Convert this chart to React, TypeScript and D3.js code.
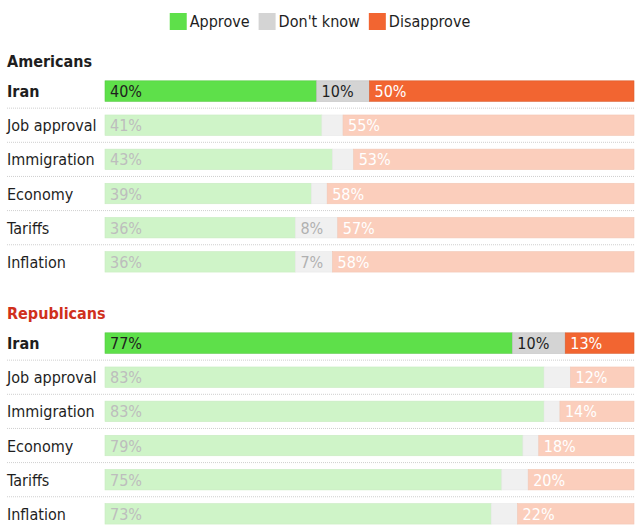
import { useEffect, useRef } from 'react';
import * as d3 from 'd3';

const categories = ['Iran', 'Job approval', 'Immigration', 'Economy', 'Tariffs', 'Inflation'];
const americansApprove = [40, 41, 43, 39, 36, 36];
const americansDontKnow = [10, 4, 4, 3, 8, 7];
const americansDisapprove = [50, 55, 53, 58, 57, 58];
const republicansApprove = [77, 83, 83, 79, 75, 73];
const republicansDontKnow = [10, 5, 3, 3, 5, 5];
const republicansDisapprove = [13, 12, 14, 18, 20, 22];
const legendLabels = ['Approve', "Don't know", 'Disapprove'];

const FONT = "'DejaVu Sans Condensed', 'Liberation Sans Narrow', sans-serif";
const STRONG = ['#5ee04a', '#d4d4d4', '#f26531'];
const LIGHT = ['#cff4c8', '#f0f0f0', '#fbcebc'];
const STRONG_TEXT = ['#1e1e1e', '#1e1e1e', '#ffffff'];
const LIGHT_TEXT = ['#bdbdbd', '#b0b0b0', '#ffffff'];

export default function App() {
  const svgRef = useRef<SVGSVGElement>(null);

  useEffect(() => {
    if (!svgRef.current) return;
    const width = 640;
    const height = 530;
    const svg = d3.select(svgRef.current);
    svg.selectAll('*').remove();
    svg.attr('width', width).attr('height', height).attr('viewBox', `0 0 ${width} ${height}`);

    const x = d3.scaleLinear().domain([0, 100]).range([105, 634]).clamp(true);

    // Legend, centred on the page after measuring the labels
    const legend = svg.append('g');
    let cx = 0;
    legendLabels.forEach((label, i) => {
      const g = legend.append('g').attr('transform', `translate(${cx},13)`);
      g.append('rect').attr('width', 17).attr('height', 17).attr('fill', STRONG[i]);
      const t = g
        .append('text')
        .attr('x', 20)
        .attr('y', 14)
        .text(label)
        .style('font-family', FONT)
        .style('font-size', '16px')
        .attr('fill', '#1e1e1e');
      const w = (t.node() as SVGTextElement).getComputedTextLength();
      cx += 20 + w + (i < legendLabels.length - 1 ? 9 : 0);
    });
    legend.attr('transform', `translate(${320 - cx / 2},0)`);

    const sections = [
      {
        title: 'Americans',
        color: '#1e1e1e',
        top: 61,
        series: [americansApprove, americansDontKnow, americansDisapprove],
      },
      {
        title: 'Republicans',
        color: '#d0301c',
        top: 313,
        series: [republicansApprove, republicansDontKnow, republicansDisapprove],
      },
    ];

    sections.forEach((sec) => {
      const g = svg.append('g');
      g.append('text')
        .attr('x', 7)
        .attr('y', sec.top + 6)
        .text(sec.title)
        .style('font-family', FONT)
        .style('font-size', '16px')
        .style('font-weight', 'bold')
        .attr('fill', sec.color);

      const y = d3
        .scaleBand()
        .domain(categories)
        .range([sec.top + 13, sec.top + 13 + categories.length * 34.15])
        .paddingInner(0.4)
        .paddingOuter(0.2);

      categories.forEach((cat, r) => {
        const highlight = r === 0;
        const rowY = y(cat) || 0;
        const bh = y.bandwidth();

        if (r > 0) {
          g.append('line')
            .attr('x1', 7)
            .attr('x2', 634)
            .attr('y1', rowY - (y.step() - bh) / 2)
            .attr('y2', rowY - (y.step() - bh) / 2)
            .attr('stroke', '#cfcfcf')
            .attr('stroke-width', 1)
            .attr('stroke-dasharray', '1,1');
        }

        g.append('text')
          .attr('x', 7)
          .attr('y', rowY + bh / 2 + 6)
          .text(cat)
          .style('font-family', FONT)
          .style('font-size', '16px')
          .style('font-weight', highlight ? 'bold' : 'normal')
          .attr('fill', '#1e1e1e');

        let cum = 0;
        sec.series.forEach((vals, k) => {
          const v = vals[r];
          const x0 = x(cum);
          const x1 = x(cum + v);
          cum += v;
          g.append('rect')
            .attr('x', x0)
            .attr('y', rowY)
            .attr('width', Math.max(0, x1 - x0))
            .attr('height', bh)
            .attr('fill', highlight ? STRONG[k] : LIGHT[k])
            .attr('stroke', highlight ? d3.color(STRONG[k])!.darker(0.3).toString() : d3.color(LIGHT[k])!.darker(0.1).toString())
            .attr('stroke-width', 0.6);
          if (k !== 1 || v >= 6) {
            g.append('text')
              .attr('x', x0 + 5)
              .attr('y', rowY + bh / 2 + 6)
              .text(`${v}%`)
              .style('font-family', FONT)
              .style('font-size', '16px')
              .attr('fill', highlight ? STRONG_TEXT[k] : LIGHT_TEXT[k]);
          }
        });
      });
    });
  }, []);

  return <svg ref={svgRef} style={{ position: 'absolute', left: 0, top: 0, display: 'block' }} />;
}
